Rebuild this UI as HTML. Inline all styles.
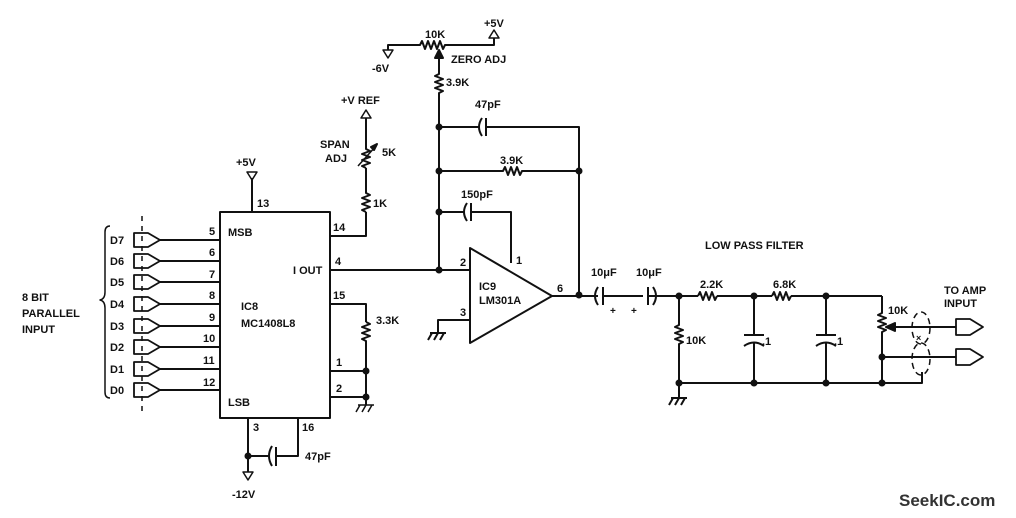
<!DOCTYPE html>
<html><head><meta charset="utf-8"><style>
html,body{margin:0;padding:0;background:#fff;}
svg{display:block;}
text{font-family:"Liberation Sans",sans-serif;font-size:11px;font-weight:bold;fill:#111;}
</style></head><body>
<svg width="1016" height="518" viewBox="0 0 1016 518" xmlns="http://www.w3.org/2000/svg">
<g stroke="#111" stroke-width="2" fill="none" stroke-linejoin="round">
<rect x="220" y="212" width="110" height="206"/>
<line x1="252" y1="212" x2="252" y2="178"/>
<polygon points="247,172 257,172 252,180" stroke-width="1.5"/>
<g>
<line x1="160" y1="240" x2="220" y2="240"/><line x1="160" y1="261" x2="220" y2="261"/>
<line x1="160" y1="282" x2="220" y2="282"/><line x1="160" y1="304" x2="220" y2="304"/>
<line x1="160" y1="326" x2="220" y2="326"/><line x1="160" y1="347" x2="220" y2="347"/>
<line x1="160" y1="369" x2="220" y2="369"/><line x1="160" y1="390" x2="220" y2="390"/>
</g>
<g stroke-width="1.8">
<path d="M134,233 h14 l12,7 l-12,7 h-14 z"/>
<path d="M134,254 h14 l12,7 l-12,7 h-14 z"/>
<path d="M134,275 h14 l12,7 l-12,7 h-14 z"/>
<path d="M134,297 h14 l12,7 l-12,7 h-14 z"/>
<path d="M134,319 h14 l12,7 l-12,7 h-14 z"/>
<path d="M134,340 h14 l12,7 l-12,7 h-14 z"/>
<path d="M134,362 h14 l12,7 l-12,7 h-14 z"/>
<path d="M134,383 h14 l12,7 l-12,7 h-14 z"/>
</g>
<line x1="142" y1="216" x2="142" y2="412" stroke-width="1.5" stroke-dasharray="5,5"/>
<path d="M110,226 q-5,0 -5,6 v60 q0,7 -5,8 q5,1 5,8 v84 q0,6 5,6" stroke-width="1.5"/>
<path d="M330,236 H366 V212"/>
<path d="M366,212 l-4,-2 l8,-3 l-8,-3 l8,-3 l-8,-3 l8,-3 l-4,-2 V168"/>
<path d="M366,168 l-4,-2 l8,-3 l-8,-3 l8,-3 l-8,-3 l8,-3 l-4,-2 V118"/>
<line x1="358" y1="166" x2="376" y2="146" stroke-width="1.5"/>
<polygon points="377,144 371,147 374,150" fill="#111"/>
<polygon points="361,118 371,118 366,110" stroke-width="1.5"/>
<line x1="330" y1="270" x2="470" y2="270"/>
<path d="M330,304 H366 V322"/>
<path d="M366,322 l4,2 l-8,3 l8,3 l-8,3 l8,3 l-8,3 l4,2 V405"/>
<path d="M330,371 H366 M330,397 H366"/>
<path d="M358,405 H374 M360,405 l-4,7 M366,405 l-4,7 M372,405 l-4,7" stroke-width="1.5"/>
<path d="M248,418 V472"/>
<polygon points="243,472 253,472 248,480" stroke-width="1.5"/>
<path d="M248,456 H268 M276,447 V466 M298,418 V456 H276"/>
<path d="M272,446 q-6,10 0,20"/>
<path d="M388,50 V45 H420 l2,-4 l3,8 l3,-8 l3,8 l3,-8 l3,8 l3,-8 l3,8 l2,-4 H494 V38"/>
<polygon points="383,50 393,50 388,58" stroke-width="1.5"/>
<polygon points="489,38 499,38 494,30" stroke-width="1.5"/>
<polygon points="439,50 435,58 443,58" fill="#111"/>
<path d="M439,56 V74 l-4,2 l8,3 l-8,3 l8,3 l-8,3 l8,3 l-4,2 V270"/>
<path d="M439,127 H480 M486,118 V136 M486,127 H579 V295"/>
<path d="M482,118 q-6,9 0,18"/>
<path d="M439,171 H503 l2,-4 l3,8 l3,-8 l3,8 l3,-8 l3,8 l2,-4 H579"/>
<path d="M439,212 H465 M471,203 V221 M471,212 H511 V263"/>
<path d="M467,203 q-6,9 0,18"/>
<polygon points="470,248 470,343 552,296"/>
<path d="M470,320 H438 V333 M430,333 H446 M432,333 l-4,7 M438,333 l-4,7 M444,333 l-4,7" />
<path d="M552,296 H598 M603,287 V305 M603,296 H643 M648,287 V305 M648,296 H698 M717,296 H772 M791,296 H882"/>
<path d="M598,287 q-6,9 0,18 M653,287 q6,9 0,18" />
<path d="M679,296 V325 l-4,2 l8,3 l-8,3 l8,3 l-8,3 l8,3 l-4,2 V398"/>
<path d="M698,296 l2,-4 l3,8 l3,-8 l3,8 l3,-8 l3,8 l2,-4 M772,296 l2,-4 l3,8 l3,-8 l3,8 l3,-8 l3,8 l2,-4"/>
<path d="M754,296 V335 M744,335 H764 M744,346 q10,-7 20,0 M754,342 V383"/>
<path d="M826,296 V335 M816,335 H836 M816,346 q10,-7 20,0 M826,342 V383"/>
<path d="M679,383 H922 V372"/>
<path d="M671,398 H687 M673,398 l-4,7 M679,398 l-4,7 M685,398 l-4,7" />
<path d="M882,296 V313 l-4,2 l8,3 l-8,3 l8,3 l-8,3 l8,3 l-4,2 V383"/>
<path d="M956,327 H894"/>
<polygon points="886,327 895,323 895,331" fill="#111"/>
<path d="M882,357 H956"/>
<path d="M956,319 h14 l13,8 l-13,8 h-14 z M956,349 h14 l13,8 l-13,8 h-14 z" stroke-width="1.8"/>
<ellipse cx="921" cy="328" rx="9" ry="16" stroke-width="1.5" stroke-dasharray="6,4"/>
<ellipse cx="921" cy="359" rx="9" ry="16" stroke-width="1.5" stroke-dasharray="6,4"/>
</g>
<g fill="#111">
<circle cx="366" cy="371" r="3.5"/><circle cx="366" cy="397" r="3.5"/>
<circle cx="248" cy="456" r="3.5"/>
<circle cx="439" cy="127" r="3.5"/><circle cx="439" cy="171" r="3.5"/>
<circle cx="439" cy="212" r="3.5"/><circle cx="439" cy="270" r="3.5"/>
<circle cx="579" cy="171" r="3.5"/><circle cx="579" cy="295" r="3.5"/>
<circle cx="679" cy="296" r="3.5"/><circle cx="754" cy="296" r="3.5"/><circle cx="826" cy="296" r="3.5"/>
<circle cx="679" cy="383" r="3.5"/><circle cx="754" cy="383" r="3.5"/><circle cx="826" cy="383" r="3.5"/>
<circle cx="882" cy="383" r="3.5"/><circle cx="882" cy="357" r="3.5"/>
</g>
<text x="228" y="236">MSB</text>
<text x="228" y="406">LSB</text>
<text x="293" y="274">I OUT</text>
<text x="241" y="310">IC8</text>
<text x="241" y="327">MC1408L8</text>
<text x="209" y="235">5</text><text x="209" y="256">6</text><text x="209" y="278">7</text>
<text x="209" y="299">8</text><text x="209" y="321">9</text><text x="203" y="342">10</text>
<text x="203" y="364">11</text><text x="203" y="386">12</text>
<text x="257" y="207">13</text><text x="333" y="231">14</text><text x="335" y="265">4</text>
<text x="333" y="299">15</text><text x="336" y="366">1</text><text x="336" y="392">2</text>
<text x="253" y="431">3</text><text x="302" y="431">16</text>
<text x="305" y="460">47pF</text><text x="232" y="498">-12V</text>
<text x="236" y="166">+5V</text>
<text x="110" y="244">D7</text><text x="110" y="265">D6</text><text x="110" y="286">D5</text>
<text x="110" y="308">D4</text><text x="110" y="330">D3</text><text x="110" y="351">D2</text>
<text x="110" y="373">D1</text><text x="110" y="394">D0</text>
<text x="22" y="301">8 BIT</text><text x="22" y="317">PARALLEL</text><text x="22" y="333">INPUT</text>
<text x="373" y="207">1K</text><text x="376" y="324" >3.3K</text>
<text x="382" y="156">5K</text><text x="341" y="104">+V REF</text>
<text x="320" y="148">SPAN</text><text x="325" y="162">ADJ</text>
<text x="425" y="38">10K</text><text x="484" y="27">+5V</text>
<text x="451" y="63">ZERO ADJ</text><text x="372" y="72">-6V</text>
<text x="446" y="86">3.9K</text><text x="475" y="108">47pF</text>
<text x="500" y="164">3.9K</text><text x="461" y="198">150pF</text>
<text x="479" y="290">IC9</text><text x="479" y="304">LM301A</text>
<text x="460" y="266">2</text><text x="460" y="316">3</text><text x="516" y="264">1</text><text x="557" y="292">6</text>
<text x="591" y="276">10μF</text><text x="636" y="276">10μF</text>
<text x="610" y="314" style="font-size:10px">+</text><text x="631" y="314" style="font-size:10px">+</text>
<text x="705" y="249">LOW PASS FILTER</text>
<text x="700" y="288">2.2K</text><text x="773" y="288">6.8K</text>
<text x="686" y="344">10K</text><text x="762" y="345">.1</text><text x="834" y="345">.1</text>
<text x="888" y="314">10K</text>
<text x="944" y="294">TO AMP</text><text x="944" y="307">INPUT</text>
<text x="916" y="341" style="font-size:9px">×</text>
<text x="899" y="506" style="font-size:17px;font-family:'Liberation Sans Narrow','Liberation Sans',sans-serif;fill:#333">SeekIC.com</text>
</svg>
</body></html>
